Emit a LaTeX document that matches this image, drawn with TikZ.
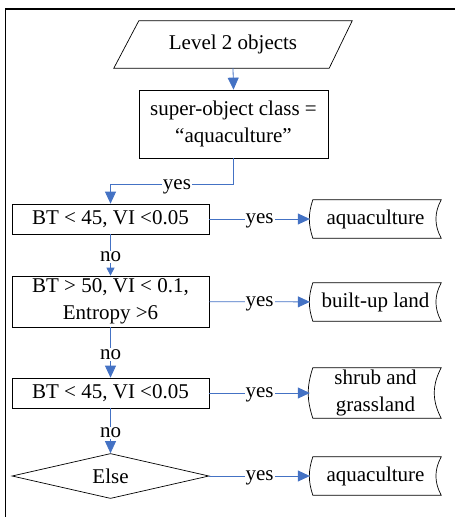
\documentclass[tikz,border=0pt]{standalone}
\usepackage{fontspec}
\setmainfont{Liberation Serif}
\usetikzlibrary{arrows.meta,shapes.geometric}
\definecolor{flowblue}{RGB}{68,114,196}

\begin{document}
\begin{tikzpicture}[x=1pt,y=-1pt,
    font=\fontsize{21}{27}\selectfont,
    box/.style={draw, line width=0.7pt, rectangle, minimum width=197pt, inner sep=0pt, align=center},
    store/.style={minimum width=131pt, minimum height=38pt, inner sep=0pt, align=center},
    flow/.style={draw=flowblue, line width=0.8pt, -{Triangle[length=12pt,width=11pt]}},
    lbl/.style={fill=white, inner sep=1pt, yshift=-2pt}]
    \useasboundingbox (0,0) rectangle (455,517);
    \draw[line width=1.6pt] (5.5,517) -- (5.5,9) -- (455,9);
    % start
    \node[minimum width=192pt, minimum height=47pt, inner sep=0pt] (lvl) at (233,44.5) {Level 2 objects};
    \draw[line width=0.7pt] ([xshift=2pt]lvl.north west) -- ([xshift=23pt]lvl.north east) -- (lvl.south east) -- ([xshift=-23pt]lvl.south west) -- cycle;
    \node[box, minimum width=189pt, minimum height=68pt] (sup) at (233.5,124) {super-object class =\\“aquaculture”};
    % rules
    \node[box, minimum height=30pt] (bta) at (110.5,219) {BT < 45, VI <0.05};
    \node[box, minimum height=51pt] (btb) at (110.5,301.5) {BT > 50, VI < 0.1,\\Entropy >6};
    \node[box, minimum height=30pt] (btc) at (110.5,393) {BT < 45, VI <0.05};
    \node[draw, line width=0.7pt, diamond, aspect=4.4, minimum width=197pt, minimum height=45pt, inner sep=0pt] (els) at (110.5,476) {Else};
    % classes
    \node[store] (oa) at (375.5,219) {aquaculture};
    \node[store] (ob) at (375.5,302) {built-up land};
    \node[store, minimum height=50pt] (oc) at (375.5,393) {shrub and\\grassland};
    \node[store] (od) at (375.5,476) {aquaculture};
    \foreach \o in {oa,ob,oc,od}
        \draw[line width=0.7pt] ([xshift=3pt]\o.north west) to[bend right=18] ([xshift=3pt]\o.south west) -- (\o.south east) to[bend left=28] (\o.north east) -- cycle;
    % connectors
    \draw[flow] (lvl.south) -- (sup.north);
    \draw[flow] (sup.south) -- ++(0,26) -| node[lbl, pos=0.23] {yes} (bta.north);
    \draw[flow, -{Triangle[length=8pt,width=8pt]}] (bta) -- node[lbl] {no} (btb);
    \draw[flow] (btb) -- node[lbl] {no} (btc);
    \draw[flow] (btc) -- node[lbl] {no} (els);
    \draw[flow] (bta) -- node[lbl] {yes} (oa);
    \draw[flow] (btb) -- node[lbl] {yes} (ob);
    \draw[flow] (btc) -- node[lbl] {yes} (oc);
    \draw[flow] (els) -- node[lbl] {yes} (od);
\end{tikzpicture}
\end{document}
